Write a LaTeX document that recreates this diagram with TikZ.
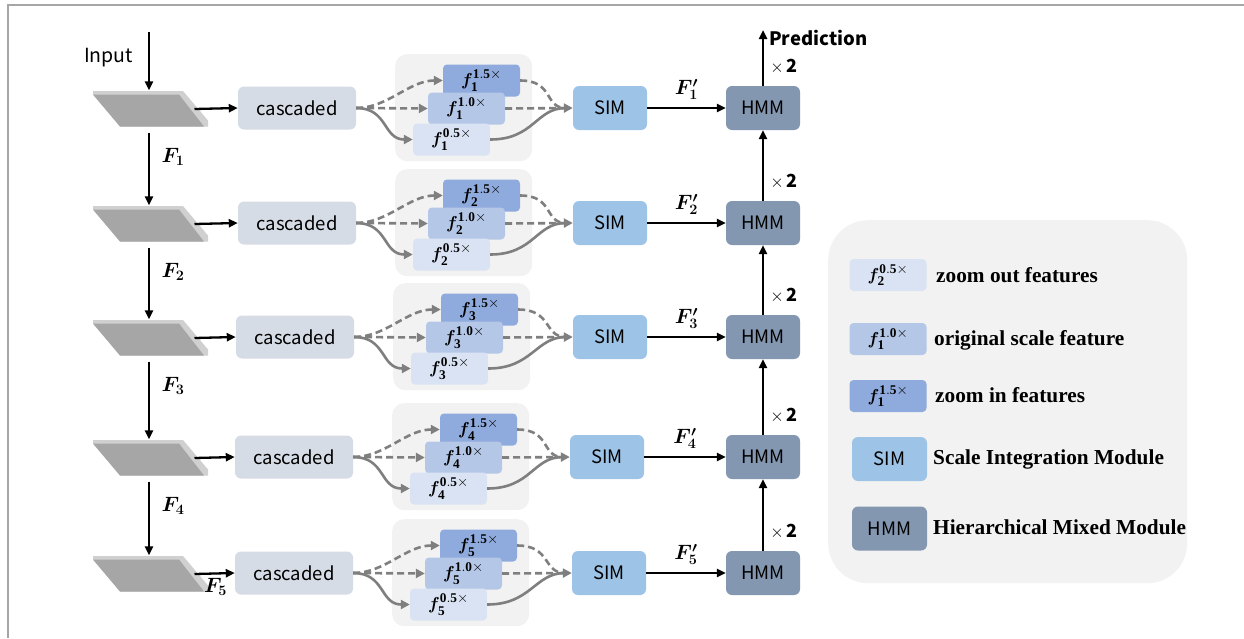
\documentclass[tikz,border=0pt]{standalone}
\usepackage{fontspec}
\usepackage{amsmath,bm}
\setmainfont{Liberation Serif}
\newfontfamily\labelfont{Noto Sans CJK SC}
\usetikzlibrary{arrows.meta,calc}

\definecolor{slabdark}{HTML}{A6A6A6}
\definecolor{slablight}{HTML}{D0D0D0}
\definecolor{cascfill}{HTML}{D6DCE5}
\definecolor{groupbg}{HTML}{F2F2F2}
\definecolor{zin}{HTML}{8FAADC}
\definecolor{zorig}{HTML}{B4C7E7}
\definecolor{zout}{HTML}{DAE3F3}
\definecolor{simfill}{HTML}{9DC3E6}
\definecolor{hmmfill}{HTML}{8497B0}
\definecolor{flowgray}{HTML}{7F7F7F}
\definecolor{framegray}{HTML}{A6A6A6}

\newcommand\featlab[2]{$\bm{f}^{\mathbf{#2}\times}_{\mathbf{#1}}$}

\tikzset{
  box/.style={rounded corners=6pt, minimum height=43pt, inner sep=0pt,
    font=\labelfont\fontsize{18.5}{20}\selectfont},
  casc/.style={box, fill=cascfill, minimum width=118pt},
  simbox/.style={box, fill=simfill, minimum width=74pt, minimum height=44pt},
  hmmbox/.style={box, fill=hmmfill, minimum width=74pt, minimum height=44pt},
  feat/.style={rounded corners=4pt, minimum width=77pt, minimum height=32pt,
    inner sep=0pt, font=\fontsize{19}{21}\selectfont},
  grp/.style={fill=groupbg, rounded corners=12pt, minimum width=137pt,
    minimum height=107pt, inner sep=0pt},
  slabnode/.style={minimum width=115pt, minimum height=37pt, inner sep=0pt},
  blk/.style={line width=2.3pt, -{Triangle[length=9pt,width=8pt]}},
  flow/.style={line width=2.6pt, flowgray},
  flowtip/.style={flow, -{Triangle[length=9pt,width=9pt]}},
  dsh/.style={dash pattern=on 7pt off 4pt},
  flab/.style={font=\fontsize{20}{22}\selectfont, inner sep=0pt},
  timeslab/.style={font=\labelfont\fontsize{18}{20}\selectfont, inner sep=0pt},
  legtext/.style={anchor=west, inner sep=0pt, font=\bfseries\fontsize{21.3}{24}\selectfont},
}

\begin{document}
\begin{tikzpicture}[x=1pt,y=-1pt]
\useasboundingbox (0,0) rectangle (1244,638);
\fill[white] (0,0) rectangle (1244,638);
\draw[framegray, line width=1.6pt] (8,638) -- (8,5) -- (1244,5);

% one row per pyramid level
\foreach \i/\y/\cx/\sx/\gx in {1/108/297/610/395, 2/223/297/610/395,
                               3/337/295/610/393, 4/457/294/607/392,
                               5/573/294/609/392}{
  \node[slabnode] (s\i) at (150.5,\y+1) {};
  \begin{scope}[shift={(s\i.center)}]
    \fill[slablight] (-57.5,-18) -- (32.5,-18) -- (57.5,11.5) -- (57.5,17.5)
                     -- (-30.5,17.5) -- (-57.5,-14.5) -- cycle;
    \fill[slabdark] (-57.5,-14.5) -- (28.5,-14.5) -- (53.5,17.5) -- (-30.5,17.5) -- cycle;
  \end{scope}
  \node[casc] (c\i) at (\cx,\y) {cascaded};
  \node[grp, anchor=north west] (g\i) at (\gx,\y-54) {};
  \node[feat, fill=zin]   (a\i) at (\gx+86.5,\y-27.5) {\featlab{\i}{1.5}};
  \node[feat, fill=zorig] (b\i) at (\gx+71.5,\y+0.5)  {\featlab{\i}{1.0}};
  \node[feat, fill=zout]  (d\i) at (\gx+56.5,\y+31.5) {\featlab{\i}{0.5}};
  \node[simbox] (m\i) at (\sx,\y) {SIM};
  \node[hmmbox] (h\i) at (763,\y) {HMM};

  \draw[blk] ([xshift=44pt]s\i.center) -- (c\i.west);

  % split into three scales
  \draw[flowtip,dsh] (c\i.east) .. controls +(32,0) and +(-34,0) .. (a\i.west);
  \draw[flowtip,dsh] (c\i.east) -- (b\i.west);
  \draw[flowtip] (c\i.east) .. controls +(32,0) and +(-30,0) .. (d\i.west);
  % merge into SIM
  \draw[flow,dsh] (a\i.east) .. controls +(34,0) and +(-22,0) .. ([xshift=-7pt]m\i.west);
  \draw[flow] (d\i.east) .. controls +(44,0) and +(-30,0) .. ([xshift=-7pt]m\i.west);
  \draw[flowtip,dsh] (b\i.east) -- (m\i.west);

  \draw[blk] (m\i.east) -- (h\i.west)
    node[midway, above=7pt, flab] {$\bm{F'_{\i}}$};
}

% backbone
\coordinate (inp) at (149,32);
\node[anchor=west, inner sep=0pt, font=\labelfont\fontsize{19.5}{22}\selectfont] (inptext) at (84,58) {Input};
\draw[blk] (inp) -- (inp |- s1.north);
\foreach \i/\j in {1/2,2/3,3/4,4/5}{
  \draw[blk] ($(inp |- s\i.south)+(0,5)$) -- (inp |- s\j.north);
  \node[flab] (F\i) at ($(inp |- s\i.south)+(24,29)$) {$\bm{F_{\i}}$};
}
\node[flab] (F5) at ($(s5.center)+(65,13)$) {$\bm{F_5}$};

% top-down path
\foreach \i/\j in {1/2,2/3,3/4,4/5}{
  \draw[blk] (h\j.north) -- (h\i.south);
  \node[timeslab] (t\j) at ($(h\j.north)+(21,-19)$) {$\times$\,\textbf{2}};
}
\coordinate (pred) at (763,30);
\draw[blk] (h1.north) -- (pred);
\node[timeslab] (t1) at ($(h1.north)+(21,-19)$) {$\times$\,\textbf{2}};
\node[anchor=west, inner sep=0pt, font=\labelfont\bfseries\fontsize{18.5}{22}\selectfont] (predtext) at (769,38) {Prediction};

% legend
\node[fill=groupbg, rounded corners=40pt, minimum width=359pt, minimum height=363pt,
      inner sep=0pt, anchor=north west] (leg) at (828,220) {};
\node[feat, fill=zout]  (l1) at (888,275) {\featlab{2}{0.5}};
\node[feat, fill=zorig] (l2) at (888,339) {\featlab{1}{1.0}};
\node[feat, fill=zin]   (l3) at (888,396) {\featlab{1}{1.5}};
\node[simbox, minimum width=75pt] (l4) at (889.5,459) {SIM};
\node[hmmbox, minimum width=75pt] (l5) at (889.5,528.5) {HMM};
\node[legtext] at (936,275) {zoom out features};
\node[legtext] at (934,340) {original scale feature};
\node[legtext] at (935,395) {zoom in features};
\node[legtext] at (933,459) {Scale Integration Module};
\node[legtext] at (933,527) {Hierarchical Mixed Module};
\end{tikzpicture}
\end{document}
